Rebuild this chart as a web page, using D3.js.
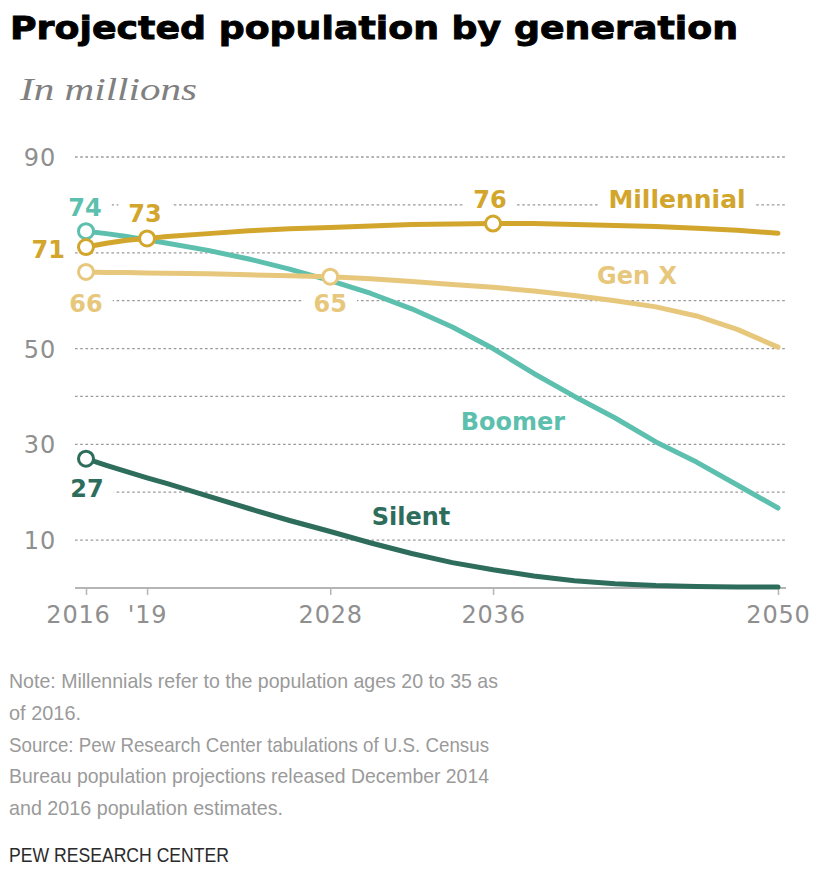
<!DOCTYPE html>
<html>
<head>
<meta charset="utf-8">
<script src="https://cdn.jsdelivr.net/npm/d3@7/dist/d3.min.js"></script>
<style>
  html, body { margin: 0; padding: 0; background: #fff; }
  svg { display: block; }
</style>
</head>
<body>
<svg id="chart" width="817" height="892"></svg>
<script>
// ---------------- DATA ----------------
const years      = [2016, 2017, 2018, 2019, 2020, 2022, 2024, 2026, 2028, 2030, 2032, 2034, 2036, 2038, 2040, 2042, 2044, 2046, 2048, 2050];
const millennial = [71.2, 72.0, 72.6, 73.0, 73.4, 74.0, 74.6, 75.0, 75.3, 75.6, 75.9, 76.0, 76.1, 76.1, 75.9, 75.7, 75.5, 75.1, 74.7, 74.1];
const genX       = [66.0, 65.9, 65.9, 65.8, 65.7, 65.6, 65.4, 65.2, 65.0, 64.6, 64.0, 63.4, 62.8, 62.0, 61.1, 60.0, 58.7, 56.8, 54.0, 50.3];
const boomer     = [74.5, 74.0, 73.4, 72.7, 72.0, 70.5, 68.7, 66.6, 64.2, 61.5, 58.3, 54.5, 50.0, 44.8, 40.0, 35.5, 30.5, 26.3, 21.5, 16.7];
const silent     = [27.0, 25.6, 24.3, 23.0, 21.8, 19.2, 16.6, 14.1, 11.8, 9.4, 7.2, 5.3, 3.8, 2.5, 1.5, 0.9, 0.5, 0.3, 0.2, 0.2];

const seriesNames  = ["Silent", "Boomer", "Gen X", "Millennial"];
const seriesColors = ["#2e6d5b", "#5dbfad", "#e7c77b", "#d2a52c"];

const gridValues   = [10, 20, 30, 40, 50, 60, 70, 80, 90];
const yTickLabels  = [10, 30, 50, 90];
const xTickValues  = [2016, 2019, 2028, 2036, 2050];
const xTickLabels  = ["2016", "'19", "2028", "2036", "2050"];

// highlighted points: [series, year, label]
const markers = [
  ["Boomer", 2016, "74"],
  ["Millennial", 2016, "71"],
  ["Millennial", 2019, "73"],
  ["Millennial", 2036, "76"],
  ["Gen X", 2016, "66"],
  ["Gen X", 2028, "65"],
  ["Silent", 2016, "27"]
];

const title    = "Projected population by generation";
const subtitle = "In millions";
const noteLines = [
  "Note: Millennials refer to the population ages 20 to 35 as",
  "of 2016.",
  "Source: Pew Research Center tabulations of U.S. Census",
  "Bureau population projections released December 2014",
  "and 2016 population estimates."
];
const noteWidths = [489, 72, 480, 480, 274];
const credit = "PEW RESEARCH CENTER";

// ---------------- SETUP ----------------
const svg = d3.select("#chart");
const valuesBySeries = { "Millennial": millennial, "Gen X": genX, "Boomer": boomer, "Silent": silent };
const colorOf = d3.scaleOrdinal().domain(seriesNames).range(seriesColors);

const x = d3.scaleLinear().domain([2016, 2050]).range([86, 778]);
const y = d3.scaleLinear().domain([0, 90]).range([588, 157]);

const SANS = "'DejaVu Sans', Verdana, sans-serif";

// Title
svg.append("text").attr("x", 10).attr("y", 39)
  .attr("font-family", SANS).attr("font-weight", 700).attr("font-size", 32)
  .attr("fill", "#000").attr("stroke", "#000").attr("stroke-width", 0.9)
  .attr("textLength", 728).attr("lengthAdjust", "spacingAndGlyphs")
  .text(title);

svg.append("text").attr("x", 20).attr("y", 100)
  .attr("font-family", "Georgia, 'Liberation Serif', 'DejaVu Serif', serif").attr("font-style", "italic")
  .attr("font-size", 32).attr("fill", "#808080")
  .attr("textLength", 177).attr("lengthAdjust", "spacingAndGlyphs")
  .text(subtitle);

// Gridlines
svg.append("g").selectAll("line").data(gridValues).join("line")
  .attr("x1", 75).attr("x2", 786)
  .attr("y1", d => y(d)).attr("y2", d => y(d))
  .attr("stroke", "#9a9a9a").attr("stroke-width", 1.3)
  .attr("stroke-dasharray", "2.6,2.6");

// Y labels
svg.append("g").selectAll("text").data(yTickLabels).join("text")
  .attr("x", 56).attr("y", d => y(d) + 9)
  .attr("text-anchor", "end")
  .attr("font-family", SANS).attr("font-size", 24).attr("letter-spacing", 0.8)
  .attr("fill", "#8f8f8f").text(d => d);

// X axis
const xAxis = d3.axisBottom(x).tickValues(xTickValues)
  .tickFormat((d, i) => xTickLabels[i]).tickSize(7).tickSizeOuter(0);
const gx = svg.append("g").attr("transform", "translate(0,588)").call(xAxis);
gx.select(".domain").attr("stroke", "#b5b5b5").attr("stroke-width", 2)
  .attr("d", "M75,0H786");
gx.selectAll(".tick line").attr("stroke", "#b5b5b5").attr("stroke-width", 1.5);
gx.selectAll(".tick text")
  .attr("font-family", SANS).attr("font-size", 24).attr("letter-spacing", 0.8)
  .attr("fill", "#8f8f8f").attr("dy", null).attr("y", 35);
gx.selectAll(".tick").filter(d => d === 2016).select("text").attr("dx", -8);

// Label definitions (text, anchor position)
const VAL_FONT = 24;
const labels = [
  { t: "74", s: "Boomer", x: x(2016) - 1, y: 216, a: "middle", f: VAL_FONT },
  { t: "71", s: "Millennial", x: 65, y: 258, a: "end", f: VAL_FONT },
  { t: "73", s: "Millennial", x: x(2019) - 2, y: 222, a: "middle", f: VAL_FONT },
  { t: "76", s: "Millennial", x: x(2036) - 3, y: 208, a: "middle", f: VAL_FONT },
  { t: "66", s: "Gen X", x: x(2016), y: 312, a: "middle", f: VAL_FONT },
  { t: "65", s: "Gen X", x: x(2028), y: 312, a: "middle", f: VAL_FONT },
  { t: "27", s: "Silent", x: x(2016) + 1, y: 497, a: "middle", f: VAL_FONT },
  { t: "Millennial", s: "Millennial", x: 677, y: 208, a: "middle", f: 25 },
  { t: "Gen X", s: "Gen X", x: 637, y: 284, a: "middle", f: 24 },
  { t: "Boomer", s: "Boomer", x: 513, y: 430, a: "middle", f: 24 },
  { t: "Silent", s: "Silent", x: 411, y: 525, a: "middle", f: 24 }
];

const bgG = svg.append("g");
const lineG = svg.append("g");
const dotG = svg.append("g");
const labG = svg.append("g");

const labTexts = labG.selectAll("text").data(labels).join("text")
  .attr("x", d => d.x).attr("y", d => d.y)
  .attr("text-anchor", d => d.a)
  .attr("font-family", SANS).attr("font-weight", 700).attr("font-size", d => d.f)
  .attr("fill", d => colorOf(d.s)).text(d => d.t);

// white knock-outs behind labels (break the gridlines)
labTexts.each(function(d) {
  const b = this.getBBox();
  bgG.append("rect")
    .attr("x", b.x - 10).attr("y", b.y - 2)
    .attr("width", b.width + 20).attr("height", b.height + 4)
    .attr("fill", "#fff");
});

// Lines
const line = d3.line().x((d, i) => x(years[i])).y(d => y(d)).curve(d3.curveLinear);
seriesNames.forEach(name => {
  lineG.append("path")
    .datum(valuesBySeries[name])
    .attr("d", line)
    .attr("fill", "none")
    .attr("stroke", colorOf(name))
    .attr("stroke-width", 5)
    .attr("stroke-linejoin", "round")
    .attr("stroke-linecap", "round");
});

// Markers
dotG.selectAll("circle").data(markers).join("circle")
  .attr("cx", d => x(d[1]))
  .attr("cy", d => y(valuesBySeries[d[0]][years.indexOf(d[1])]))
  .attr("r", 7.5)
  .attr("fill", "#fff")
  .attr("stroke", d => colorOf(d[0]))
  .attr("stroke-width", 3);

// Notes (condensed look)
svg.append("g").selectAll("text").data(noteLines).join("text")
  .attr("x", 9).attr("y", (d, i) => 688 + i * 31.8)
  .attr("font-family", "'Liberation Sans', Arial, sans-serif")
  .attr("font-size", 21).attr("fill", "#9a9a9a")
  .attr("textLength", (d, i) => noteWidths[i]).attr("lengthAdjust", "spacingAndGlyphs")
  .text(d => d);

svg.append("text").attr("x", 9).attr("y", 862)
  .attr("font-family", "'Liberation Sans', Arial, sans-serif")
  .attr("font-size", 21).attr("fill", "#2a2a2a")
  .attr("textLength", 220).attr("lengthAdjust", "spacingAndGlyphs")
  .text(credit);
</script>
</body>
</html>
